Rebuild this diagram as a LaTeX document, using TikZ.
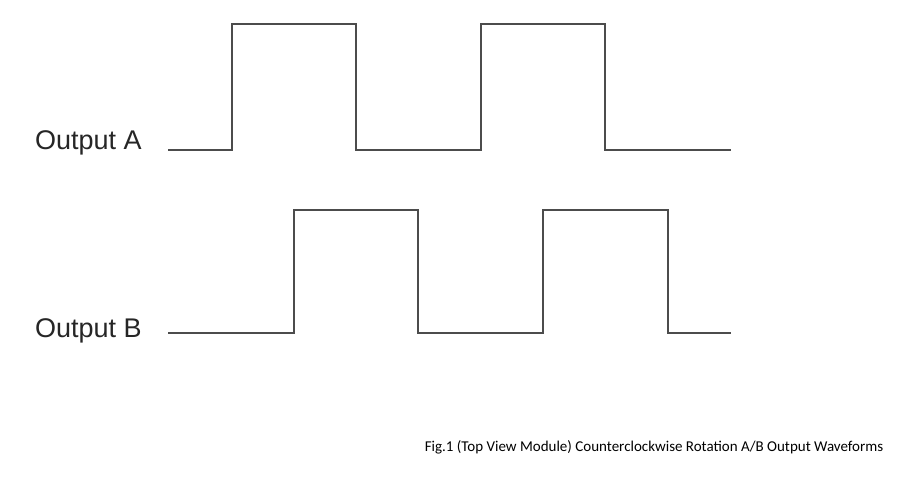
\documentclass[tikz,border=0pt]{standalone}
\usepackage{fontspec}
\setmainfont{Liberation Sans}
\newfontfamily\capfont{Carlito}
\usetikzlibrary{positioning}

\begin{document}
\begin{tikzpicture}[
    x=1pt, y=-1pt,
    % Define label style
    label style/.style={
        anchor=west, % Left aligned
        inner sep=0pt,
        font=\fontsize{27}{30}\selectfont, % Label size
        text=black!85
      },
    % Define wave style
    wave/.style={
        draw=black!70, % Gray line
        line width=2pt
      }
  ]
  \useasboundingbox (0,0) rectangle (899,487);

  % Labels
  \node[label style] (OutA) at (35,143) {Output A};
  \node[label style] (OutB) at (35,331) {Output B};

  % Output A waveform
  \coordinate (StartA) at (168,150);
  \draw[wave] (StartA) -| (232,24) -| (356,150) -| (481,24) -| (605,150) -- (731,150);

  % Output B waveform
  \coordinate (StartB) at (168,333);
  \draw[wave] (StartB) -| (294,210) -| (418,333) -| (543,210) -| (668,333) -- (731,333);

  % Caption
  \node[font=\capfont\fontsize{15}{18}\selectfont] (Caption) at (654,447)
    {Fig.1 (Top View Module) Counterclockwise Rotation A/B Output Waveforms};
\end{tikzpicture}
\end{document}
